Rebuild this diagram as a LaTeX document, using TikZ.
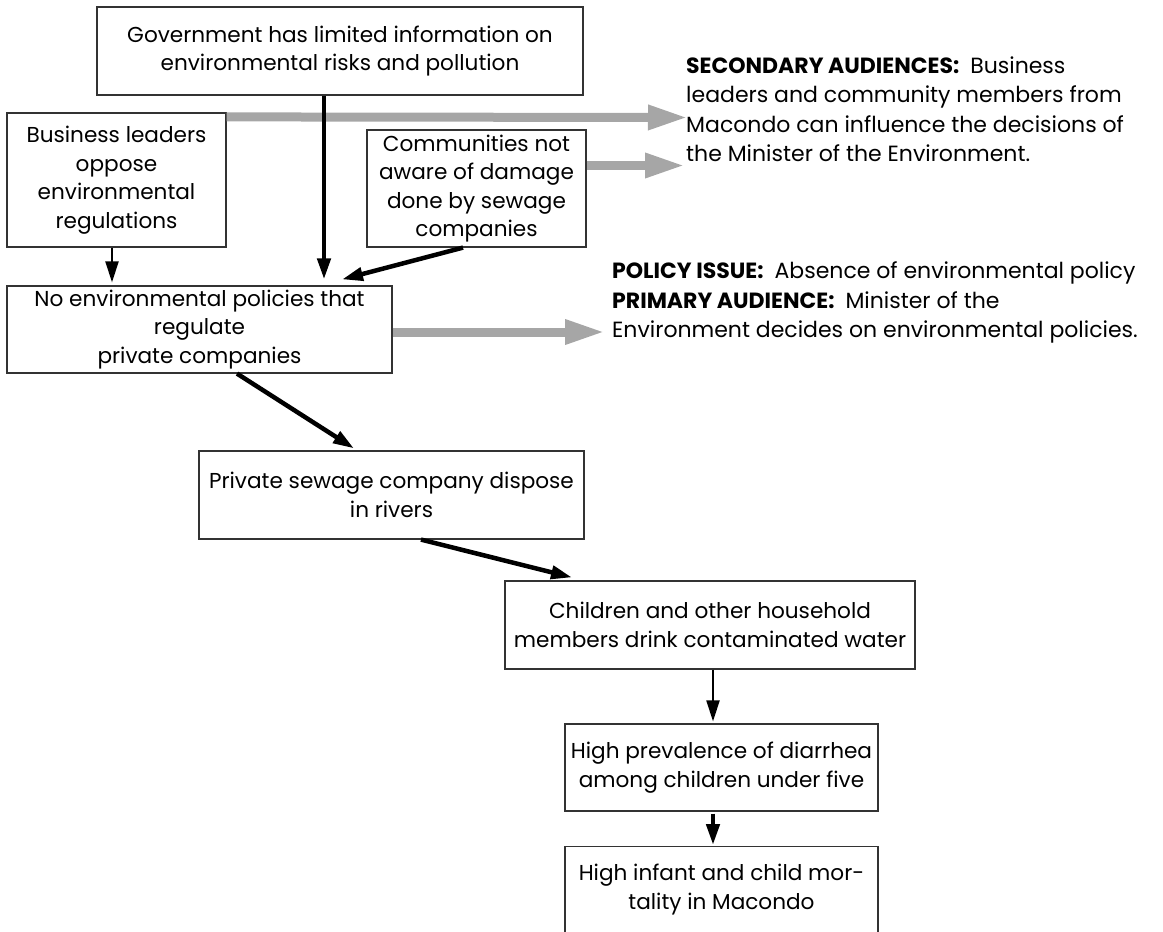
\documentclass[tikz,border=0pt]{standalone}
\usepackage{fontspec}
\setmainfont{Poppins}
\usetikzlibrary{arrows.meta}
\definecolor{bargray}{RGB}{166,166,166}
\tikzset{
  box/.style={draw=black!80, line width=1.2pt, align=center, inner sep=0pt, font=\fontsize{21.6}{28.5}\selectfont},
  note/.style={anchor=west, align=left, inner sep=0pt, font=\fontsize{22}{29.5}\selectfont},
  cause/.style={-{Triangle[length=21pt,width=13pt]}, line width=4.5pt},
  link/.style={-{Triangle[length=21pt,width=13pt]}, line width=2pt},
  audience/.style={-{Triangle[length=40pt,width=23pt]}, line width=9pt, draw=bargray}
}
\begin{document}
\begin{tikzpicture}[x=1pt, y=-1pt]
  \useasboundingbox (0,0) rectangle (1163,932);
  \node[box, minimum width=486pt, minimum height=88pt] (gov) at (340,51) {Government has limited information on\\environmental risks and pollution};
  \node[box, minimum width=219pt, minimum height=134pt] (biz) at (116.5,180) {Business leaders\\oppose\\environmental\\regulations};
  \node[box, minimum width=219pt, minimum height=117pt] (comm) at (476.5,188.5) {Communities not\\aware of damage\\done by sewage\\companies};
  \node[box, minimum width=385pt, minimum height=87pt] (noenv) at (199.5,329.5) {No environmental policies that\\regulate\\private companies};
  \node[box, minimum width=385pt, minimum height=88pt] (priv) at (391.5,495) {Private sewage company dispose\\in rivers};
  \node[box, minimum width=410pt, minimum height=88pt] (kids) at (710,625) {Children and other household\\members drink contaminated water};
  \node[box, minimum width=313pt, minimum height=87pt] (diarrhea) at (721.5,767.5) {High prevalence of diarrhea\\among children under five};
  \node[box, minimum width=313pt, anchor=north, inner ysep=17.5pt, text depth=45pt] (mortality) at (721.5,846) {High infant and child mor-\\tality in Macondo};
  \node[note] (sec) at (686,109) {\textbf{SECONDARY AUDIENCES:}\enspace Business\\leaders and community members from\\Macondo can influence the decisions of\\the Minister of the Environment.};
  \node[note] (issue) at (612,302.5) {\textbf{POLICY ISSUE:}\enspace Absence of environmental policy\\\textbf{PRIMARY AUDIENCE:}\enspace Minister of the\\Environment decides on environmental policies.};
  \coordinate (secA) at (688,117.5);
  \coordinate (secB) at (685,165.5);
  \coordinate (pol) at (605,332);
  \draw[audience] ([yshift=-4.5pt]biz.north east) -- (secA);
  \draw[audience] ([yshift=23pt]comm.east) -- (secB);
  \draw[audience] ([yshift=-2.5pt]noenv.east) -- (pol);
  \draw[cause, shorten >=6pt] ([xshift=-16pt]gov.south) -- ([xshift=124.5pt]noenv.north);
  \draw[link, shorten >=3pt] ([xshift=-4.5pt]biz.south) -- ([xshift=-4.5pt]biz.south |- noenv.north);
  \draw[cause] ([xshift=-13.5pt]comm.south) -- ([xshift=142.5pt, yshift=6pt]noenv.north);
  \draw[cause] ([xshift=37.5pt]noenv.south) -- ([xshift=-37.5pt, yshift=2pt]priv.north);
  \draw[cause] ([xshift=29.5pt]priv.south) -- ([xshift=-138pt, yshift=3pt]kids.north);
  \draw[link, shorten >=2pt] ([xshift=3pt]kids.south) -- ([xshift=3pt]kids.south |- diarrhea.north);
  \draw[cause] ([xshift=-8.5pt, yshift=-2pt]diarrhea.south) -- ([xshift=-8.5pt, yshift=1pt]mortality.north);
\end{tikzpicture}
\end{document}
